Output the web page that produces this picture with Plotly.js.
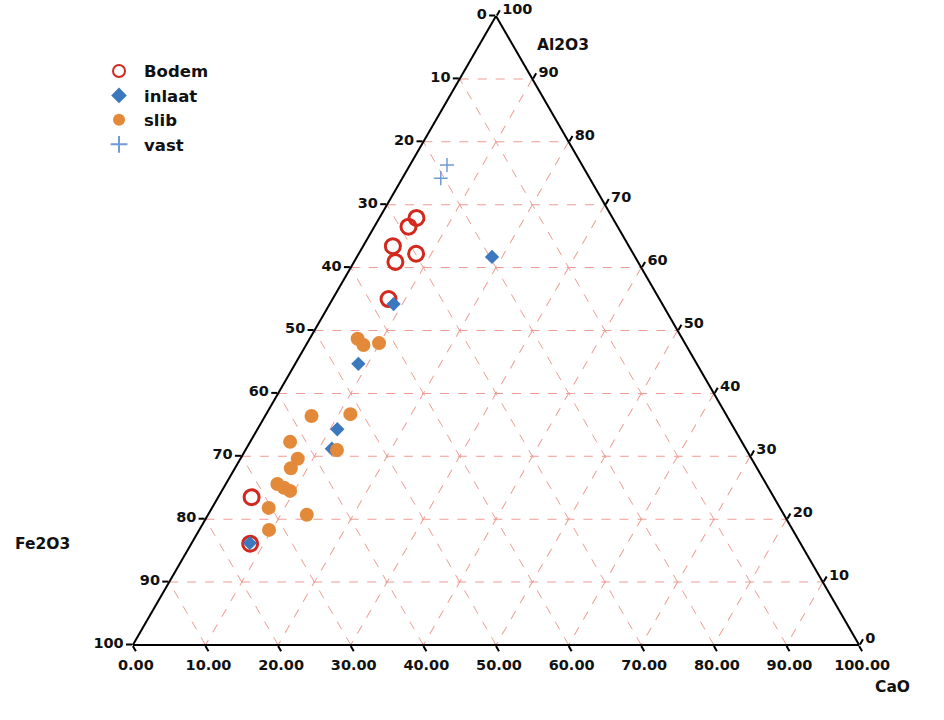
<!DOCTYPE html>
<html>
<head>
<meta charset="utf-8">
<script src="https://cdn.plot.ly/plotly-3.0.1.min.js"></script>
<style>html,body{margin:0;padding:0;background:#fff;}#chart{width:944px;height:720px;}</style>
</head>
<body>
<div id="chart"></div>
<script>
// Compositions in % (Al2O3, Fe2O3, CaO)
const bodemAl = [67.9, 66.5, 63.4, 60.9, 62.2, 55.0, 23.5, 16.1];
const bodemFe = [27.0, 28.8, 32.5, 33.4, 29.9, 37.3, 71.9, 75.8];
const bodemCa = [5.1, 4.7, 4.1, 5.7, 7.9, 7.7, 4.6, 8.1];

const inlaatAl = [61.7, 54.2, 44.7, 34.3, 31.2, 16.2];
const inlaatFe = [19.7, 37.0, 46.6, 54.7, 57.0, 75.8];
const inlaatCa = [18.6, 8.8, 8.7, 11.0, 11.8, 8.0];

const slibAl = [48.7, 47.7, 48.0, 36.7, 36.4, 31.0, 32.3, 29.6, 28.1, 25.6, 25.0, 24.5, 21.8, 20.7, 18.3];
const slibFe = [44.7, 44.4, 42.1, 51.7, 57.2, 56.4, 62.2, 62.5, 64.2, 67.3, 66.7, 66.1, 70.4, 65.7, 72.1];
const slibCa = [6.6, 7.9, 9.9, 11.6, 6.4, 12.6, 5.5, 7.9, 7.7, 7.1, 8.3, 9.4, 7.8, 13.6, 9.6];

const vastAl = [76.3, 74.2];
const vastFe = [18.6, 20.5];
const vastCa = [5.1, 5.3];

// Tick values and the labels shown along each edge
const tickVals = [0, 10, 20, 30, 40, 50, 60, 70, 80, 90, 100];
const feTickText = ['100', '90', '80', '70', '60', '50', '40', '30', '20', '10', '0'];
const caTickText = ['100.00', '90.00', '80.00', '70.00', '60.00', '50.00', '40.00', '30.00', '20.00', '10.00', '0.00'];
const alTickText = ['100', '90', '80', '70', '60', '50', '40', '30', '20', '10', '0'];

const traces = [
  {type: 'scatterternary', mode: 'markers', name: 'Bodem',
   a: bodemAl, b: bodemFe, c: bodemCa,
   marker: {symbol: 'circle-open', size: 15, color: '#d2281e', line: {width: 3, color: '#d2281e'}}},
  {type: 'scatterternary', mode: 'markers', name: 'inlaat',
   a: inlaatAl, b: inlaatFe, c: inlaatCa,
   marker: {symbol: 'diamond', size: 11, color: '#3c78be'}},
  {type: 'scatterternary', mode: 'markers', name: 'slib',
   a: slibAl, b: slibFe, c: slibCa,
   marker: {symbol: 'circle', size: 14, color: '#e38a3a'}},
  {type: 'scatterternary', mode: 'markers', name: 'vast',
   a: vastAl, b: vastFe, c: vastCa,
   marker: {symbol: 'cross-thin-open', size: 10, color: '#6f9bd6', line: {width: 1.5, color: '#6f9bd6'}}}
];

const tickFont = {family: 'DejaVu Sans, sans-serif', size: 14.5, color: '#111', weight: 'bold'};
function axis(text) {
  return {
    tickmode: 'array', tickvals: tickVals, ticktext: text,
    ticks: 'outside', ticklen: 6, tickwidth: 2, tickcolor: '#000',
    tickfont: tickFont,
    showline: true, linecolor: '#000', linewidth: 2,
    showgrid: true, gridcolor: '#ee9c93', gridwidth: 1, griddash: 'dash',
    title: {text: ''}
  };
}

const titleFont = {family: 'DejaVu Sans, sans-serif', size: 15.5, color: '#111', weight: 'bold'};
const layout = {
  width: 944, height: 720,
  margin: {l: 60, r: 12, t: 16, b: 75},
  paper_bgcolor: '#fff',
  showlegend: true,
  legend: {x: 0.039, y: 0.94, xanchor: 'left', yanchor: 'top', bgcolor: 'rgba(0,0,0,0)',
           font: {family: 'DejaVu Sans, sans-serif', size: 16.5, color: '#111', weight: 'bold'},
           tracegroupgap: 0, itemsizing: 'constant', itemwidth: 40},
  ternary: {
    sum: 100,
    bgcolor: '#fff',
    domain: {x: [0, 1], y: [0, 1]},
    aaxis: axis(feTickText),
    baxis: axis(caTickText),
    caxis: axis(alTickText)
  },
  annotations: [
    {text: 'Al2O3', xref: 'paper', yref: 'paper', x: 0.577, y: 0.954, xanchor: 'center', yanchor: 'middle',
     showarrow: false, font: titleFont},
    {text: 'Fe2O3', xref: 'paper', yref: 'paper', x: -0.02, y: 0.16, xanchor: 'center', yanchor: 'middle',
     showarrow: false, font: titleFont},
    {text: 'CaO', xref: 'paper', yref: 'paper', x: 0.955, y: -0.066, xanchor: 'center', yanchor: 'middle',
     showarrow: false, font: titleFont}
  ]
};

Plotly.newPlot('chart', traces, layout, {displayModeBar: false, staticPlot: true});
</script>
</body>
</html>
